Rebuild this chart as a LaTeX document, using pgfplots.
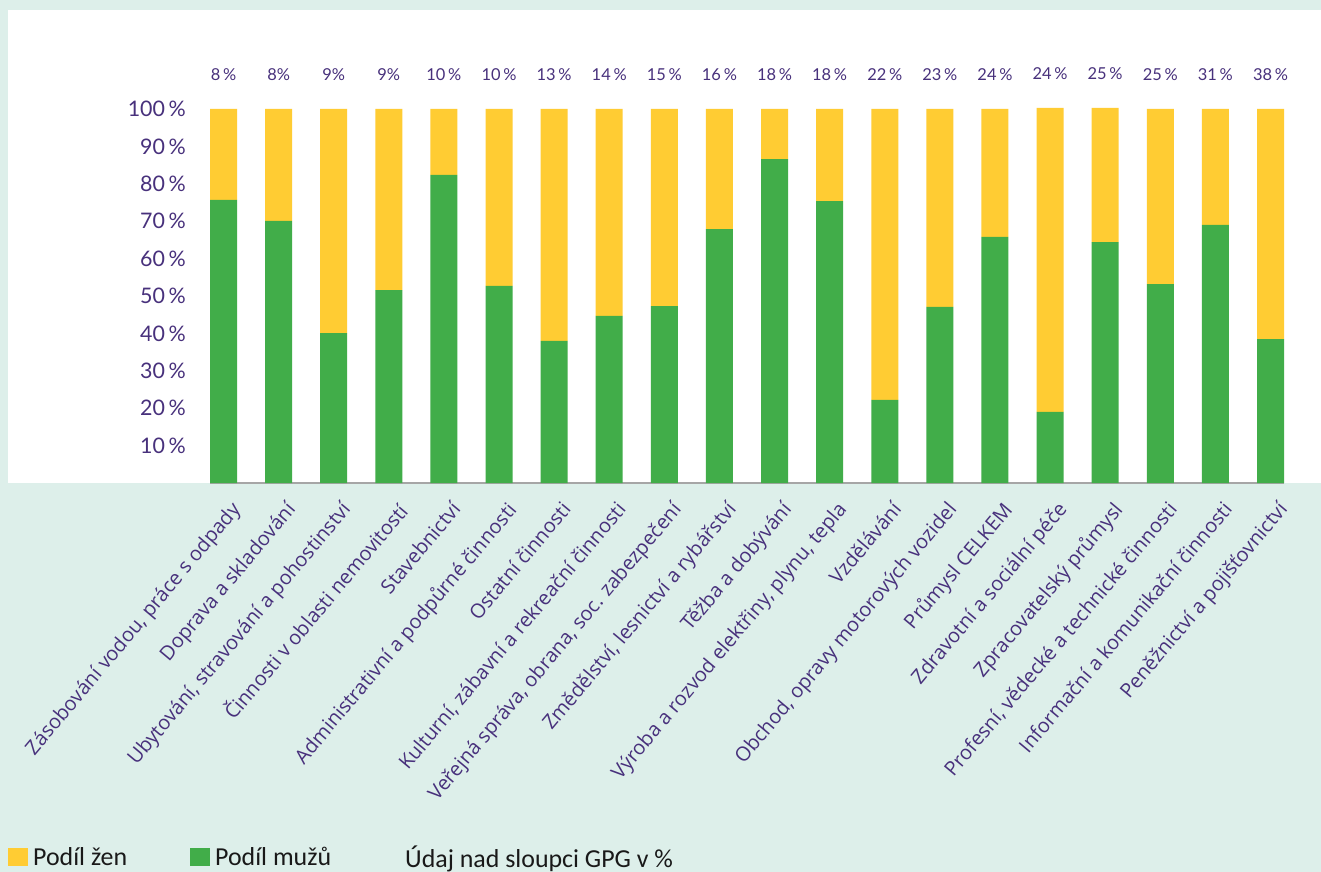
\documentclass[border=0pt]{standalone}
\usepackage{fontspec}
\setmainfont{Lato}
\newfontfamily\labelfont{Open Sans}
\newfontfamily\legendfont{Carlito}
\usepackage{pgfplots}
\usepackage{pgfplotstable}
\pgfplotsset{compat=1.18}

\definecolor{mint}{HTML}{DDEFEA}
\definecolor{barGreen}{HTML}{41AD49}
\definecolor{barYellow}{HTML}{FFCC33}
\definecolor{txtPurple}{HTML}{48317C}
\definecolor{axisGray}{HTML}{A6A6A6}

% share of men / women per sector, GPG label above each bar
\pgfplotstableread{
x muzi zeny gpg
0  75.7 24.3 {8\,\%}
1  70.1 29.9 {8\%}
2  40.1 59.9 {9\%}
3  51.6 48.4 {9\%}
4  82.4 17.6 {10\,\%}
5  52.7 47.3 {10\,\%}
6  38.0 62.0 {13\,\%}
7  44.7 55.3 {14\,\%}
8  47.3 52.7 {15\,\%}
9  67.9 32.1 {16\,\%}
10 86.6 13.4 {18\,\%}
11 75.4 24.6 {18\,\%}
12 22.2 77.8 {22\,\%}
13 47.1 52.9 {23\,\%}
14 65.8 34.2 {24\,\%}
15 19.0 81.3 {24\,\%}
16 64.4 35.9 {25\,\%}
17 53.2 46.8 {25\,\%}
18 69.0 31.0 {31\,\%}
19 38.5 61.5 {38\,\%}
}\datatable

\begin{document}
\begin{tikzpicture}
\path[use as bounding box] (0,0) rectangle (1321bp,872bp);
\fill[mint] (0,0) rectangle (1321bp,872bp);
\fill[white] (8bp,389bp) rectangle (1321bp,862bp);
\begin{axis}[
  at={(210bp,389bp)}, anchor=south west,
  scale only axis, width=1074bp, height=374bp,
  xmin=-0.245, xmax=19.245, ymin=0, ymax=100,
  enlargelimits=false, clip=false,
  ybar stacked, bar width=27bp,
  axis lines*=left,
  x axis line style={axisGray, line width=1.2bp},
  y axis line style={draw=none},
  major tick length=0pt,
  xtick={0,...,19},
  xticklabels={
    {Zásobování vodou, práce s odpady},
    {Doprava a skladování},
    {Ubytování, stravování a pohostinství},
    {Činnosti v oblasti nemovitostí},
    {Stavebnictví},
    {Administrativní a podpůrné činnosti},
    {Ostatní činnosti},
    {Kulturní, zábavní a rekreační činnosti},
    {Veřejná správa, obrana, soc. zabezpečení},
    {Změdělství, lesnictví a rybářství},
    {Těžba a dobývání},
    {Výroba a rozvod elektřiny, plynu, tepla},
    {Vzdělávání},
    {Obchod, opravy motorových vozidel},
    {Průmysl CELKEM},
    {Zdravotní a sociální péče},
    {Zpracovatelský průmysl},
    {Profesní, vědecké a technické činnosti},
    {Informační a komunikační činnosti},
    {Peněžnictví a pojišťovnictví}},
  xticklabel style={xshift=6bp, yshift=-17bp, rotate=50, anchor=north east,
    inner sep=0pt, text=txtPurple, font=\labelfont\fontsize{20}{22}\selectfont},
  ytick={10,20,...,100},
  yticklabels={10\,\%,20\,\%,30\,\%,40\,\%,50\,\%,60\,\%,70\,\%,80\,\%,90\,\%,100\,\%},
  yticklabel style={inner sep=0pt, xshift=-24bp, anchor=east, text=txtPurple,
    font=\fontsize{21.5}{24}\selectfont},
  legend style={at={(-0.1881,-1.0)}, anchor=west, draw=none, fill=none,
    inner sep=0pt, column sep=5bp, legend columns=3,
    nodes={inner sep=0pt, anchor=west, text=black!90,
      font=\legendfont\fontsize{26}{28}\selectfont}},
  legend image code/.code={\fill[#1] (0bp,-9bp) rectangle (20bp,9bp);},
]
\addplot+[fill=barGreen, draw=none, forget plot] table[x=x, y=muzi] {\datatable};
% the label sits at the middle of the yellow segment; lift it to the bar top
\addplot+[fill=barYellow, draw=none, forget plot,
  visualization depends on={\thisrow{zeny} \as \yel},
  nodes near coords, point meta=explicit symbolic,
  nodes near coords style={anchor=center, yshift={34bp+1.87bp*\yel},
    text=txtPurple, font=\fontsize{16.5}{18}\selectfont}]
  table[x=x, y=zeny, meta=gpg] {\datatable};
\addlegendimage{fill=barYellow, draw=none}
\addlegendentry{\makebox[152bp][l]{Podíl žen}}
\addlegendimage{fill=barGreen, draw=none}
\addlegendentry{\makebox[180bp][l]{Podíl mužů}}
\addlegendimage{empty legend}
\addlegendentry{Údaj nad sloupci GPG v \%}
\end{axis}
\end{tikzpicture}
\end{document}
